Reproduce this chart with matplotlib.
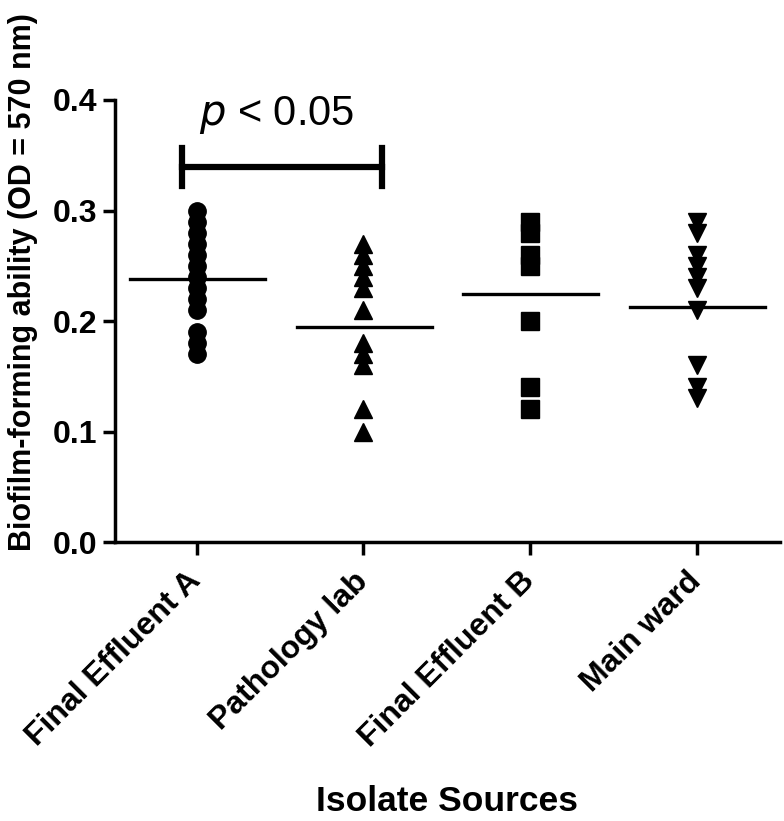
import matplotlib
matplotlib.use("Agg")
import matplotlib.pyplot as plt
import numpy as np

plt.rcParams['font.family'] = ['Liberation Sans', 'DejaVu Sans']

sources = ["Final Effluent A", "Pathology lab", "Final Effluent B", "Main ward"]
effluent_a = [0.30, 0.29, 0.28, 0.27, 0.26, 0.25, 0.24, 0.23, 0.22, 0.21, 0.19, 0.18, 0.17]
pathology = [0.27, 0.26, 0.25, 0.24, 0.23, 0.21, 0.18, 0.17, 0.16, 0.12, 0.10]
effluent_b = [0.29, 0.28, 0.26, 0.25, 0.20, 0.14, 0.12]
main_ward = [0.29, 0.28, 0.26, 0.25, 0.24, 0.23, 0.21, 0.16, 0.14, 0.13]
means = [0.238, 0.195, 0.224, 0.213]
markers = ["o", "^", "s", "v"]

groups = [effluent_a, pathology, effluent_b, main_ward]

fig = plt.figure(figsize=(7.84, 8.21), dpi=100)
ax = fig.add_axes([0.1467, 0.3398, 0.995 - 0.1467, 0.8782 - 0.3398])

for i, vals in enumerate(groups):
    ax.plot([i] * len(vals), vals, linestyle="none", marker=markers[i],
            markersize=12.5, color="black", clip_on=False)
    ax.plot([i - 0.4, i + 0.41], [means[i]] * 2, color="black", lw=2.4)

# significance bracket
ax.plot([-0.09, 1.11], [0.339, 0.339], color="black", lw=4.5, clip_on=False)
ax.plot([-0.09, -0.09], [0.322, 0.357], color="black", lw=4.5, clip_on=False)
ax.plot([1.11, 1.11], [0.322, 0.357], color="black", lw=4.5, clip_on=False)
ax.text(0.48, 0.386, r"$\it{p}$ < 0.05", ha="center", va="center", fontsize=30)

ax.set_xlim(-0.49, 3.5)
ax.set_ylim(0, 0.4)
ax.set_yticks([0.0, 0.1, 0.2, 0.3, 0.4])
ax.set_yticklabels(["0.0", "0.1", "0.2", "0.3", "0.4"], fontweight="bold")
ax.set_xticks(range(4))
ax.set_xticklabels(sources, rotation=45, ha="right", va="center",
                   rotation_mode="anchor", fontweight="bold")
ax.tick_params(labelsize=23, width=2.5, length=9, direction="out")
ax.tick_params(axis="x", pad=16)
ax.tick_params(axis="y", pad=4)

for s in ["top", "right"]:
    ax.spines[s].set_visible(False)
for s in ["left", "bottom"]:
    ax.spines[s].set_linewidth(2.5)

ax.set_ylabel("Biofilm-forming ability (OD = 570 nm)", fontsize=22, fontweight="bold")
ax.yaxis.set_label_coords(-0.116, 0.588)
ax.set_xlabel("Isolate Sources", fontsize=25.5, fontweight="bold")
ax.xaxis.set_label_coords(0.499, -0.55)

fig.savefig("out.png", dpi=100)
